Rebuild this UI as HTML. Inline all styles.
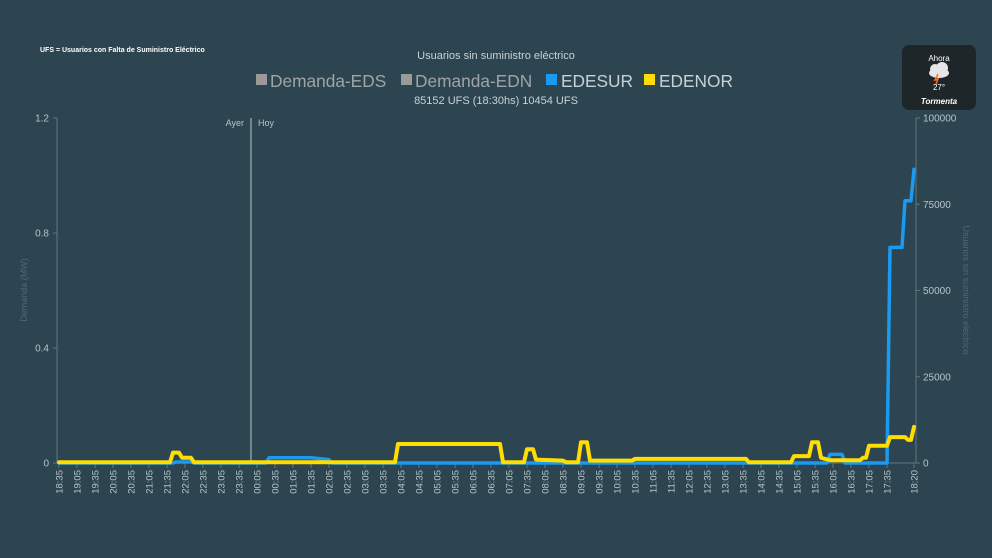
<!DOCTYPE html>
<html><head><meta charset="utf-8">
<style>
body{margin:0;background:#2c4550;font-family:"Liberation Sans",sans-serif;}
#wrap{position:relative;width:992px;height:558px;overflow:hidden;background:#2c4550;}
</style></head>
<body>
<div id="wrap">
<svg id="chart" width="992" height="558">
  <text x="40" y="52" font-size="7" font-weight="bold" fill="#ffffff">UFS = Usuarios con Falta de Suministro Eléctrico</text>
  <text x="496" y="59" font-size="11" fill="#c8d2d6" text-anchor="middle">Usuarios sin suministro eléctrico</text>
  <g>
    <g><rect x="256" y="74" width="11" height="11" fill="#9a9a9a"/><text x="270" y="87" font-size="17.3" fill="#a0a4a6">Demanda-EDS</text></g>
    <g><rect x="401" y="74" width="11" height="11" fill="#9a9a9a"/><text x="415" y="87" font-size="17.3" fill="#a0a4a6">Demanda-EDN</text></g>
    <g><rect x="546" y="74" width="11" height="11" fill="#1a9af0"/><text x="561" y="87" font-size="17.3" fill="#c8d2d6">EDESUR</text></g>
    <g><rect x="644" y="74" width="11" height="11" fill="#ffdd00"/><text x="659" y="87" font-size="17.3" fill="#c8d2d6">EDENOR</text></g>
  </g>
  <text x="496" y="104" font-size="11" fill="#c8d2d6" text-anchor="middle">85152 UFS (18:30hs) 10454 UFS</text>
  <g>
    <rect x="902" y="45" width="74" height="65" rx="7" fill="#1f2629"/>
    <text x="939" y="61" font-size="8" fill="#fff" text-anchor="middle">Ahora</text>
    <ellipse cx="939" cy="73" rx="10" ry="5" fill="#e6e6e6"/><circle cx="935" cy="69" r="5" fill="#e6e6e6"/><circle cx="942" cy="68" r="6" fill="#e6e6e6"/>
    <path d="M938 74 L935 80 L938 79 L936 84" stroke="#ff6a2a" stroke-width="1.5" fill="none"/>
    <text x="939" y="90" font-size="8" fill="#fff" text-anchor="middle">27°</text>
    <text x="939" y="104" font-size="8" font-weight="bold" font-style="italic" fill="#fff" text-anchor="middle">Tormenta</text>
  </g>
  <g id="axes"></g>
  <g id="marks"></g>
</svg>
</div>
<script>
const xLabels=["18:35","19:05","19:35","20:05","20:35","21:05","21:35","22:05","22:35","23:05","23:35","00:05","00:35","01:05","01:35","02:05","02:35","03:05","03:35","04:05","04:35","05:05","05:35","06:05","06:35","07:05","07:35","08:05","08:35","09:05","09:35","10:05","10:35","11:05","11:35","12:05","12:35","13:05","13:35","14:05","14:35","15:05","15:35","16:05","16:35","17:05","17:35","18:20"];
const leftTicks=[0,0.4,0.8,1.2];
const rightTicks=[0,25000,50000,75000,100000];
const edenorTimes=["18:35","21:40","21:45","21:55","22:00","22:15","22:20","03:55","04:00","06:50","06:55","07:30","07:35","07:45","07:50","08:35","08:40","09:00","09:05","09:15","09:20","10:30","10:35","13:40","13:45","14:55","15:00","15:25","15:30","15:40","15:45","16:00","16:50","16:55","17:00","17:05","17:35","17:40","18:05","18:10","18:15","18:20"];
const edenorValues=[200,200,3000,3000,1500,1500,200,200,5500,5500,200,200,4000,4000,1000,700,200,200,6000,6000,700,700,1200,1200,200,200,2000,2000,6000,6000,1500,800,800,1500,1500,5000,5000,7500,7500,6700,6700,10454];
const edesurTimes=["18:35","21:45","21:50","22:15","22:20","00:20","00:25","01:35","02:05","02:10","15:55","16:00","16:20","16:25","17:35","17:40","18:00","18:05","18:15","18:20"];
const edesurValues=[0,0,300,300,0,0,1500,1500,1000,0,0,2500,2500,0,0,62500,62500,76000,76000,85152];

const NS="http://www.w3.org/2000/svg";
const X0=59,STEP=3,YB=463,YT=118;
function mins(t){let [h,m]=t.split(":").map(Number);let v=h*60+m-(18*60+35);if(v<0)v+=1440;return v;}
function xs(t){return X0+mins(t)/5*STEP;}
function yL(v){return YB-(v/1.2)*(YB-YT);}
function yR(v){return YB-(v/100000)*(YB-YT);}
function mk(tag,attrs,parent){const e=document.createElementNS(NS,tag);for(const k in attrs)e.setAttribute(k,attrs[k]);parent.appendChild(e);return e;}
const axes=document.getElementById("axes"),marks=document.getElementById("marks");
const txt="#b8c4c9";
let a=mk("line",{x1:57,y1:YT,x2:57,y2:YB,stroke:"#5f7680"},axes);


a=mk("line",{x1:916,y1:YT,x2:916,y2:YB,stroke:"#5f7680"},axes);


a=mk("line",{x1:57,y1:YB,x2:916,y2:YB,stroke:"#5f7680"},axes);


const midX=251;
a=mk("line",{x1:midX,y1:YT,x2:midX,y2:YB,stroke:"#8a9ba2","stroke-width":1.5},axes);


a=mk("text",{x:midX-7,y:126,"font-size":9,fill:txt,"text-anchor":"end"},axes);a.textContent="Ayer";


a=mk("text",{x:midX+7,y:126,"font-size":9,fill:txt},axes);a.textContent="Hoy";


leftTicks.forEach(v=>{const y=yL(v);mk("line",{x1:53,y1:y,x2:57,y2:y,stroke:"#5f7680"},axes);
 const t=mk("text",{x:49,y:y+3.5,"font-size":10,fill:txt,"text-anchor":"end"},axes);t.textContent=String(v);
 
 });
rightTicks.forEach(v=>{const y=yR(v);mk("line",{x1:916,y1:y,x2:920,y2:y,stroke:"#5f7680"},axes);
 const t=mk("text",{x:923,y:y+3.5,"font-size":10,fill:txt},axes);t.textContent=String(v);
 
 });
a=mk("text",{x:0,y:0,"font-size":9,fill:"#4f6872","text-anchor":"middle",transform:"translate(27,290) rotate(-90)"},axes);a.textContent="Demanda (MW)";


a=mk("text",{x:0,y:0,"font-size":9,fill:"#4f6872","text-anchor":"middle",transform:"translate(963,290) rotate(90)"},axes);a.textContent="Usuarios sin suministro eléctrico";


xLabels.forEach(l=>{const x=xs(l);mk("line",{x1:x,y1:YB,x2:x,y2:YB+5,stroke:"#5f7680"},axes);
 const t=mk("text",{x:0,y:0,"font-size":9.5,fill:txt,"text-anchor":"end",transform:`translate(${x+3.5},${YB+7}) rotate(-90)`},axes);t.textContent=l;
 
 });
function series(times,vals,color,name,w){
 const d=times.map((t,i)=>(i?"L":"M")+xs(t).toFixed(1)+" "+yR(vals[i]).toFixed(1)).join(" ");
 const p=mk("path",{d:d,fill:"none",stroke:color,"stroke-width":w,"stroke-linejoin":"round","stroke-linecap":"round"},marks);
 
 
}
series(edesurTimes,edesurValues,"#1a9af0","edesur-line",3.5);
series(edenorTimes,edenorValues,"#ffdd00","edenor-line",4);
</script>
</body></html>
